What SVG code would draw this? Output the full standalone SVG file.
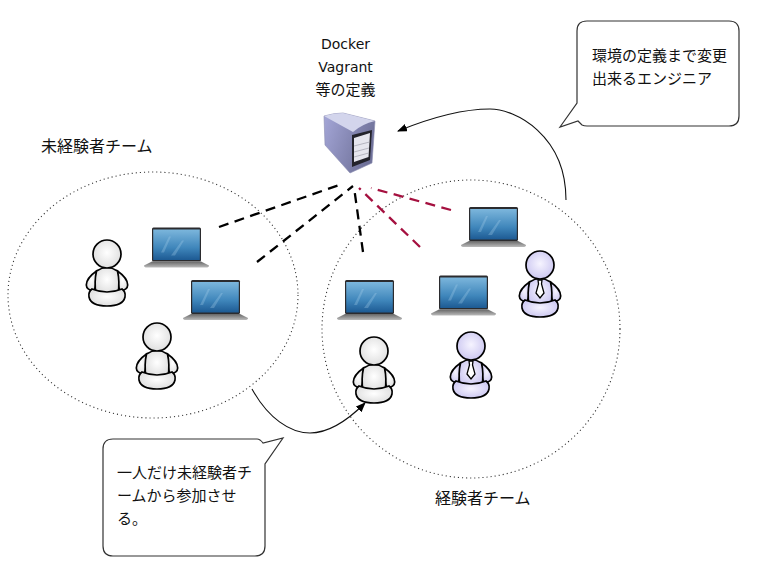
<svg xmlns="http://www.w3.org/2000/svg" xmlns:xlink="http://www.w3.org/1999/xlink" width="761" height="578" viewBox="0 0 761 578">
<style>
text{font-family:"DejaVu Sans","Noto Sans CJK JP",sans-serif;fill:#111}
.t15{font-size:15px;font-family:"Noto Sans CJK JP",sans-serif;font-weight:400}
.t16{font-size:16px;font-family:"Noto Sans CJK JP",sans-serif;font-weight:400}
.t13{font-size:14px}
.team{fill:none;stroke:#333;stroke-width:1.1;stroke-dasharray:1.1 3}
.blk{fill:none;stroke:#000;stroke-width:2.3;stroke-dasharray:10 6.500}
.red{fill:none;stroke:#a5103f;stroke-width:2.3;stroke-dasharray:10 6.500}
.cur{fill:none;stroke:#111;stroke-width:1.1}
.call{fill:#fff;stroke:#333;stroke-width:1.2}
.o{stroke:#000;stroke-width:1.700}
</style>
<defs>
<marker id="ah" markerUnits="userSpaceOnUse" markerWidth="12" markerHeight="10" refX="9" refY="4" orient="auto"><path d="M0 0L10 4L0 8Z" fill="#000"/></marker>
<linearGradient id="scr" x1="0" y1="0" x2="0" y2="1"><stop offset="0" stop-color="#7cb6dc"/><stop offset="0.6" stop-color="#3f86bb"/><stop offset="1" stop-color="#1d5a93"/></linearGradient>
<linearGradient id="base" x1="0" y1="0" x2="0" y2="1"><stop offset="0" stop-color="#666"/><stop offset="1" stop-color="#bbb"/></linearGradient>
<radialGradient id="wh" cx="0.5" cy="0.45" r="0.6"><stop offset="0" stop-color="#fff"/><stop offset="1" stop-color="#dcdcdc"/></radialGradient>
<radialGradient id="pu" cx="0.5" cy="0.45" r="0.6"><stop offset="0" stop-color="#f6f4ff"/><stop offset="1" stop-color="#c9c4f0"/></radialGradient>
<linearGradient id="srv" x1="0" y1="0" x2="1" y2="0.4"><stop offset="0" stop-color="#a5a7d8"/><stop offset="1" stop-color="#6f7199"/></linearGradient>
<g id="laptop">
<rect x="0" y="0" width="49" height="34" rx="1.500" fill="#2b2b2e"/>
<rect x="1.200" y="2" width="46.600" height="30.500" fill="url(#scr)"/>
<path d="M9 25L17 9L19 9L12 25ZM19 28L30 13L32 13L23 28Z" fill="#a8d0ea" opacity=".3"/>
<path d="M0 34H49L57 38Q57 40 54 40H-5Q-8 40 -8 38Z" fill="url(#base)"/>
</g>
<g id="body-shape">
<path class="o" d="M-10.500 17Q-20.500 24 -20.700 31Q-20.500 36 -13 37Q-10 30 -10.500 17Z"/>
<path class="o" d="M10.500 17Q20.500 24 20.700 31Q20.500 36 13 37Q10 30 10.500 17Z"/>
<path class="o" d="M-10.500 17Q-13 28 -11 40H11Q13 28 10.500 17Q0 10 -10.500 17Z"/>
<path class="o" d="M-15 35Q-19 38 -18 43Q-16 52 0 52Q16 52 18 43Q19 38 15 35Q0 41 -15 35Z"/>
</g>
<g id="pw" fill="url(#wh)">
<use xlink:href="#body-shape" href="#body-shape"/>
<circle class="o" r="14"/>
</g>
<g id="pb" fill="url(#pu)">
<use xlink:href="#body-shape" href="#body-shape"/>
<path d="M-2 15H2L1.500 19L4 28L0 33L-4 28L-1.500 19Z" fill="#fff" stroke="#000" stroke-width="1.300"/>
<circle class="o" r="14"/>
</g>
</defs>

<g id="team-circles">
<ellipse class="team" cx="153" cy="295" rx="145" ry="123"/>
<circle class="team" cx="471" cy="329" r="149"/>
</g>

<g id="connectors">
<path class="blk" d="M219 227L342 184"/>
<path class="blk" d="M257 262L353 186"/>
<path class="blk" d="M363 252L354 187"/>
<path class="red" d="M451 210L371 188"/>
<path class="red" d="M420 247L359 188"/>
<path class="cur" marker-end="url(#ah)" d="M566 200C566 135 515 109 490 109C460 109 430 118 398 131"/>
<path class="cur" marker-end="url(#ah)" d="M252 389C268 418 290 433 310 433C330 433 348 420 365 403"/>
</g>

<g id="server">
<path d="M324 116Q334 113 343 113L375 121L372 163L350 173L325 145Z" fill="url(#srv)" stroke="#8a8cb0" stroke-width=".6"/>
<path d="M324 116Q334 113 343 113L375 121Q362 124 353 132Z" fill="#d3d5ec"/>
<path d="M352 135L372 130L370 160L352 167Z" fill="#23232b"/>
<path d="M354 138L370 133L368.500 157L354 162Z" fill="#e6e6ee"/>
<path d="M354 146L369.500 142M354 152L369 148M354 157L368.700 153" stroke="#a8a8b4" stroke-width=".8"/>
<text class="t13" x="345.500" y="49" text-anchor="middle">Docker</text>
<text class="t13" x="345.500" y="72" text-anchor="middle">Vagrant</text>
<text class="t15" x="345.500" y="95" text-anchor="middle">等の定義</text>
</g>

<g id="laptop-1"><use xlink:href="#laptop" href="#laptop" x="152" y="227.500"/></g>
<g id="laptop-2"><use xlink:href="#laptop" href="#laptop" x="191" y="280"/></g>
<g id="laptop-3"><use xlink:href="#laptop" href="#laptop" x="345" y="280"/></g>
<g id="laptop-4"><use xlink:href="#laptop" href="#laptop" x="439" y="275.500"/></g>
<g id="laptop-5"><use xlink:href="#laptop" href="#laptop" x="469" y="207"/></g>

<g id="person-1"><use xlink:href="#pw" href="#pw" x="107" y="254"/></g>
<g id="person-2"><use xlink:href="#pw" href="#pw" x="157" y="337"/></g>
<g id="person-3"><use xlink:href="#pw" href="#pw" x="374" y="351"/></g>
<g id="person-4"><use xlink:href="#pb" href="#pb" x="471" y="346"/></g>
<g id="person-5"><use xlink:href="#pb" href="#pb" x="540" y="265"/></g>

<g id="label-left"><text class="t16" x="41" y="152">未経験者チーム</text></g>
<g id="label-right"><text class="t16" x="435" y="504">経験者チーム</text></g>

<g id="callout-top">
<path class="call" d="M587 21H729Q739 21 739 31V116Q739 126 729 126H587Q584 126 582 125L578 121L560 127L577 103V31Q577 21 587 21Z"/>
<text class="t15" x="592" y="61">環境の定義まで変更</text>
<text class="t15" x="592" y="84">出来るエンジニア</text>
</g>
<g id="callout-bottom">
<path class="call" d="M113 439H257Q260 439 263 443L283 438L265 464V546Q265 556 255 556H113Q103 556 103 546V449Q103 439 113 439Z"/>
<text class="t15" x="117" y="478">一人だけ未経験者チ</text>
<text class="t15" x="117" y="501">ームから参加させ</text>
<text class="t15" x="117" y="524">る。</text>
</g>
</svg>
